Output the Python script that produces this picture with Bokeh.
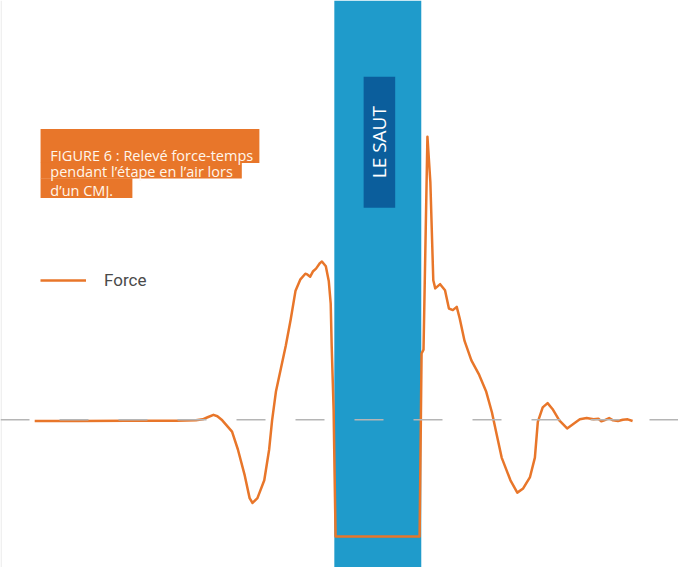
from bokeh.plotting import figure
from bokeh.models import BoxAnnotation, Span, Label, Range1d
from bokeh.embed import file_html
from bokeh.resources import INLINE

# ---- data: time (s) and vertical ground-reaction force (N) ----
time_s = [0.000, 0.225, 0.475, 0.725, 0.825, 0.860, 0.885, 0.915, 0.935, 0.960,
          1.010, 1.040, 1.075, 1.100, 1.115, 1.140, 1.175, 1.200, 1.215, 1.235,
          1.260, 1.285, 1.310, 1.335, 1.360, 1.385, 1.395, 1.410, 1.425, 1.440,
          1.460, 1.470, 1.490, 1.505, 1.515, 1.520, 1.530, 1.535, 1.540,
          1.970, 1.980, 1.990, 2.010, 2.025, 2.040, 2.050, 2.075, 2.100, 2.120,
          2.140, 2.160, 2.175, 2.200, 2.235, 2.275, 2.310, 2.340, 2.365, 2.390,
          2.435, 2.470, 2.500, 2.535, 2.560, 2.575, 2.600, 2.625, 2.650, 2.685,
          2.725, 2.760, 2.790, 2.825, 2.860, 2.885, 2.900, 2.915, 2.940, 2.960,
          2.985, 3.010, 3.035, 3.060]
force_n = [712, 712, 714, 714, 716, 722, 735, 750, 741, 716,
           646, 536, 376, 236, 206, 236, 346, 536, 716, 896,
           1036, 1176, 1336, 1516, 1586, 1620, 1616, 1602, 1636, 1652,
           1686, 1696, 1666, 1576, 1436, 1176, 776, 378, 0,
           0, 1128, 1152, 2466, 2186, 1580, 1530, 1556, 1518, 1406,
           1396, 1416, 1346, 1206, 1086, 996, 896, 766, 626, 486,
           346, 270, 296, 366, 486, 706, 796, 822, 786, 716,
           666, 696, 722, 730, 722, 726, 710, 716, 730, 716,
           712, 720, 722, 712]
body_weight_n = 720
takeoff_s = 1.5335
landing_s = 1.9785
series_label = "Force"
jump_label = "LE SAUT"
title_lines = ["FIGURE 6 : Relevé force-temps",
               "pendant l\u2019étape en l\u2019air lors",
               "d\u2019un CMJ."]

ORANGE = "#e8762a"
BLUE = "#1f9bcb"
DARK_BLUE = "#0b5e9c"

p = figure(width=678, height=567, output_backend="svg", toolbar_location=None,
           x_range=Range1d(-0.175, 3.295), y_range=Range1d(-192, 3306),
           x_axis_location=None, y_axis_location=None, min_border=0)
p.xgrid.visible = False
p.ygrid.visible = False
p.outline_line_color = None
p.background_fill_color = "white"

# faint left border
p.add_layout(Span(location=-0.172, dimension="height", line_color="#e6e6e6", line_width=1))

# flight phase band
p.add_layout(BoxAnnotation(left=takeoff_s, right=landing_s, fill_color=BLUE,
                           fill_alpha=1.0, line_color=None, level="underlay"))

# body weight baseline
p.add_layout(Span(location=body_weight_n, dimension="width", line_color="#b5b5b5",
                  line_width=1.5, line_dash="29 30"))

r = p.line(time_s, force_n, line_color=ORANGE, line_width=2.5, line_join="round",
           legend_label=series_label)

# jump label box
p.add_layout(BoxAnnotation(left=1.6835, right=1.845, bottom=2028, top=2836,
                           fill_color=DARK_BLUE, fill_alpha=1.0, line_color=None))
p.add_layout(Label(x=1.762, y=2432, text=jump_label, angle=1.5708,
                   text_align="center", text_baseline="middle",
                   text_color="white", text_font="Open Sans", text_font_size="19px"))

# title boxes
for (l, rr, b, t) in [(0.03, 1.15, 2304, 2514), (0.03, 1.06, 2208, 2305), (0.03, 0.50, 2088, 2209)]:
    p.add_layout(BoxAnnotation(left=l, right=rr, bottom=b, top=t, fill_color=ORANGE,
                               fill_alpha=1.0, line_color=None))
for txt, yy in zip(title_lines, [2349, 2250, 2136]):
    p.add_layout(Label(x=0.08, y=yy, text=txt, text_baseline="alphabetic",
                       text_color="#fff6ec", text_font="Open Sans", text_font_size="14.5px"))

leg = p.legend[0]
leg.location = (40, 277)
leg.border_line_color = None
leg.background_fill_alpha = 0
leg.padding = 0
leg.margin = 0
leg.glyph_width = 46
leg.glyph_height = 20
leg.label_standoff = 18
leg.label_text_font = "Roboto"
leg.label_text_font_size = "17px"
leg.label_text_color = "#4a4a4a"

open("out.html", "w").write(file_html(p, INLINE))
